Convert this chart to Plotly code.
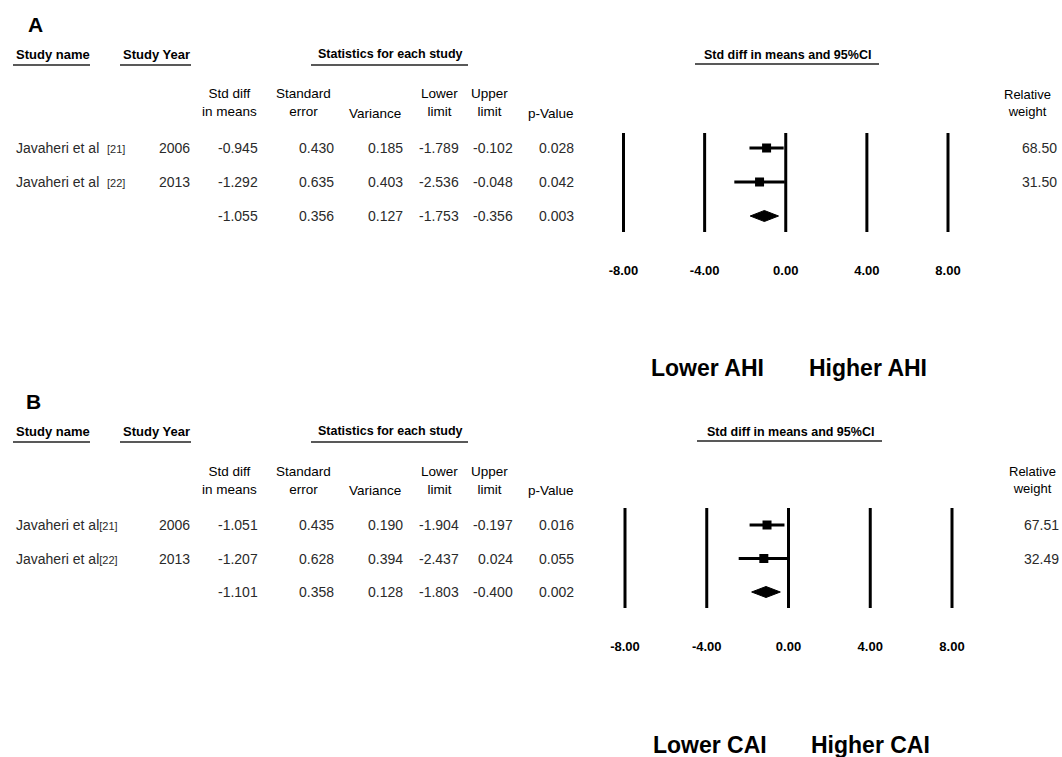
import plotly.graph_objects as go

# ---------------- data ----------------
study_names = ["Javaheri et al", "Javaheri et al"]
study_refs = ["[21]", "[22]"]
study_years = [2006, 2013]
axis_ticks = [-8, -4, 0, 4, 8]
col_headers = ["Std diff<br>in means", "Standard<br>error", "Variance", "Lower<br>limit", "Upper<br>limit", "p-Value"]

# Panel A (AHI): rows = study 1, study 2, pooled
a_sd = [-0.945, -1.292, -1.055]
a_se = [0.430, 0.635, 0.356]
a_var = [0.185, 0.403, 0.127]
a_lo = [-1.789, -2.536, -1.753]
a_hi = [-0.102, -0.048, -0.356]
a_p = [0.028, 0.042, 0.003]
a_weight = [68.50, 31.50]

# Panel B (CAI)
b_sd = [-1.051, -1.207, -1.101]
b_se = [0.435, 0.628, 0.358]
b_var = [0.190, 0.394, 0.128]
b_lo = [-1.904, -2.437, -1.803]
b_hi = [-0.197, 0.024, -0.400]
b_p = [0.016, 0.055, 0.002]
b_weight = [67.51, 32.49]

# ---------------- layout helpers ----------------
W, H = 1062, 757
def px(x): return x / W
def py(y): return 1 - y / H

SANS = "Liberation Sans, Arial, sans-serif"

fig = go.Figure()
annotations = []
shapes = []

def txt(x, y, text, size=14, xanchor="center", yref="paper", color="#2a2a2a", bold=False):
    if bold:
        text = "<b>" + text + "</b>"
    annotations.append(dict(x=x, y=y, xref="paper", yref=yref, text=text, showarrow=False,
                            xanchor=xanchor, yanchor="middle",
                            font=dict(family=SANS, size=size, color=color)))

def hline(x0, x1, y):
    shapes.append(dict(type="line", xref="paper", yref="paper", x0=px(x0), x1=px(x1),
                       y0=py(y), y1=py(y), line=dict(color="#222", width=1.3)))

def panel(letter, off, xa, ya, sd, se, var, lo, hi, p, weights, refsep, xl, yl,
          row0, rowstep, lines_top, lines_bot, tick_y, xm8, x8, fhdr_c, ful, wt_c, wt_r,
          lowtxt, hightxt, low_c, high_c, dom_l=600, dom_r=990):
    # forest axis geometry
    s = (x8 - xm8) / 16.0
    xr = [-8 - (xm8 - dom_l) / s, 8 + (dom_r - x8) / s]
    dom_top = lines_top - 8
    dom_bot = lines_bot + 4
    yr = [(dom_bot - row0) / rowstep, (dom_top - row0) / rowstep]
    vt = (lines_top - row0) / rowstep
    vb = (lines_bot - row0) / rowstep

    # vertical reference lines
    lx, ly = [], []
    for t in axis_ticks:
        lx += [t, t, None]
        ly += [vt, vb, None]
    fig.add_trace(go.Scatter(x=lx, y=ly, mode="lines", xaxis=xa, yaxis=ya,
                             line=dict(color="black", width=3), hoverinfo="skip", showlegend=False))
    # study estimates with CIs
    n = len(weights)
    fig.add_trace(go.Scatter(
        x=sd[:n], y=list(range(n)), mode="markers", xaxis=xa, yaxis=ya,
        marker=dict(symbol="square", size=9, color="black"),
        error_x=dict(type="data", symmetric=False,
                     array=[hi[i] - sd[i] for i in range(n)],
                     arrayminus=[sd[i] - lo[i] for i in range(n)],
                     thickness=3, width=0, color="black"),
        showlegend=False))
    # pooled diamond
    h = 5.5 / rowstep
    fig.add_trace(go.Scatter(
        x=[lo[n], sd[n], hi[n], sd[n], lo[n]], y=[n, n - h, n, n + h, n],
        mode="lines", fill="toself", fillcolor="black", line=dict(color="black", width=1),
        xaxis=xa, yaxis=ya, showlegend=False))

    axname = "xaxis" if xa == "x" else "xaxis" + xa[1:]
    yname = "yaxis" if ya == "y" else "yaxis" + ya[1:]
    fig.layout[axname] = dict(domain=[px(dom_l), px(dom_r)], range=xr, anchor=ya,
                              showgrid=False, zeroline=False, showline=False,
                              tickvals=axis_ticks, ticktext=["<b>%.2f</b>" % t for t in axis_ticks],
                              ticks="outside", ticklen=tick_y - dom_bot - 12,
                              tickcolor="rgba(0,0,0,0)",
                              tickfont=dict(family=SANS, size=13, color="black"))
    fig.layout[yname] = dict(domain=[py(dom_bot), py(dom_top)], range=yr, anchor=xa,
                             visible=False)

    # panel letter and headers
    txt(px(xl), py(yl), letter, size=21, bold=True, color="black")
    hy = off + 54
    txt(px(14), py(hy), "Study name", size=13, xanchor="left", bold=True, color="black")
    hline(13, 90, off + 65)
    txt(px(121), py(hy), "Study Year", size=13, xanchor="left", bold=True, color="black")
    hline(120, 191, off + 65)
    txt(px(390), py(hy), "Statistics for each study", size=12.5, bold=True, color="black")
    hline(311, 468, off + 65)
    txt(px(fhdr_c), py(off + 55), "Std diff in means and 95%CI", size=12.5, bold=True, color="black")
    hline(ful[0], ful[1], off + 64)

    col_c = [229, 303, 375, 439, 489, 551]
    for c, lab in zip(col_c, col_headers):
        yy = off + 103 if "<br>" in lab else off + 113
        txt(px(c), py(yy), lab, size=13.5, color="black")
    txt(px(wt_c), py(off + 103), "Relative<br>weight", size=13, color="black")

    # table rows
    col_r = [260, 336, 405, 461, 515, 576]
    for i in range(n + 1):
        if i < n:
            txt(px(14), i, study_names[i] + refsep + "<span style='font-size:11px'>" + study_refs[i] + "</span>",
                xanchor="left", yref=ya)
            txt(px(192), i, str(study_years[i]), xanchor="right", yref=ya)
            txt(px(wt_r), i, "%.2f" % weights[i], xanchor="right", yref=ya)
        vals = ["%.3f" % sd[i], "%.3f" % se[i], "%.3f" % var[i], "%.3f" % lo[i], "%.3f" % hi[i], "%.3f" % p[i]]
        for r, v in zip(col_r, vals):
            txt(px(r), i, v, xanchor="right", yref=ya)

    # direction labels
    txt(px(low_c), py(off + 368), lowtxt, size=23, bold=True, color="black")
    txt(px(high_c), py(off + 368), hightxt, size=23, bold=True, color="black")


panel("A", 0, "x", "y", a_sd, a_se, a_var, a_lo, a_hi, a_p, a_weight, "&nbsp;&nbsp;", 35, 24,
      row0=148, rowstep=34, lines_top=133, lines_bot=232, tick_y=270, xm8=623.5, x8=948,
      fhdr_c=787, ful=(695, 879), wt_c=1027, wt_r=1059,
      lowtxt="Lower AHI", hightxt="Higher AHI", low_c=707, high_c=868)
panel("B", 377, "x2", "y2", b_sd, b_se, b_var, b_lo, b_hi, b_p, b_weight, "", 33, 401,
      row0=525, rowstep=33.5, lines_top=508, lines_bot=608, tick_y=646, xm8=625, x8=952,
      fhdr_c=790, ful=(697, 882), wt_c=1032, wt_r=1061,
      lowtxt="Lower CAI", hightxt="Higher CAI", low_c=710, high_c=870)

fig.update_layout(width=W, height=H, margin=dict(l=0, r=0, t=0, b=0),
                  paper_bgcolor="white", plot_bgcolor="white",
                  annotations=annotations, shapes=shapes, showlegend=False)
fig.write_html("out.html", config={"displayModeBar": False},
               post_script="document.body.style.margin='0';document.body.style.overflow='hidden';")
